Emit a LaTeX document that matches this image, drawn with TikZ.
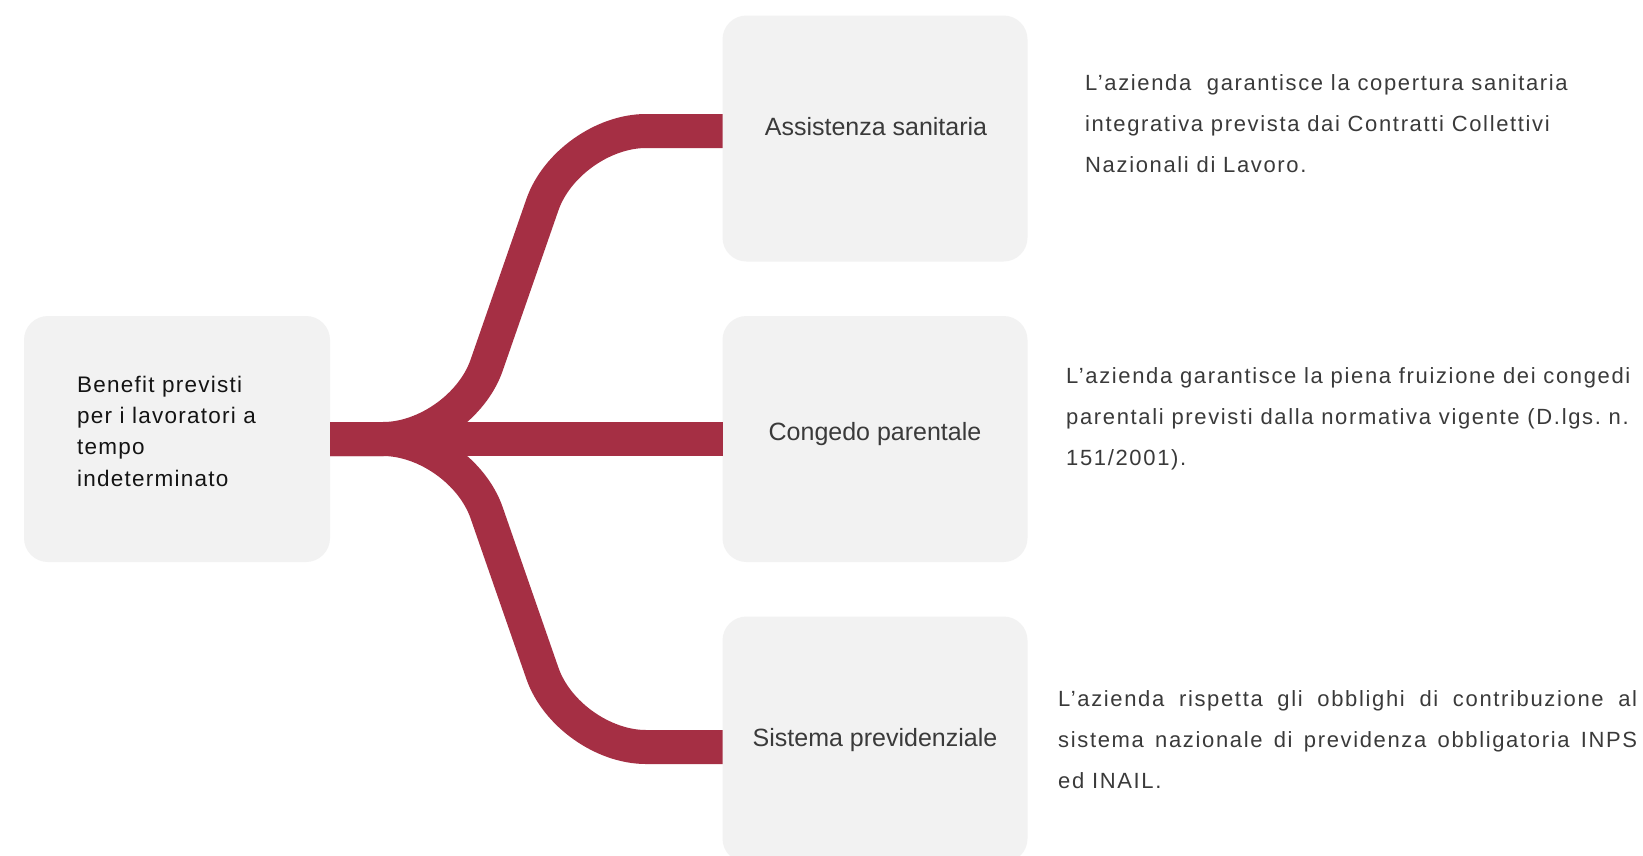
\documentclass[tikz,border=0pt]{standalone}
\usepackage{fontspec}
\setmainfont{Liberation Sans}
\newfontfamily\descfont[LetterSpace=7.5]{Liberation Sans}
\newfontfamily\leftfont[LetterSpace=5.5]{Liberation Sans}
\newfontfamily\labelfont{Liberation Sans}
\definecolor{branchred}{RGB}{165,47,68}
\definecolor{boxgray}{RGB}{242,242,242}
\definecolor{textgray}{RGB}{58,58,58}
\definecolor{leftblack}{RGB}{20,20,20}
\frenchspacing
\begin{document}
\begin{tikzpicture}[x=1pt,y=-1pt,
  box/.style={fill=boxgray, rounded corners=24pt, inner sep=0pt, outer sep=0pt,
    minimum width=305pt, minimum height=246pt},
  branch/.style={draw=branchred, line width=34pt, rounded corners=78pt},
  lbl/.style={inner sep=0pt, text=textgray, font=\labelfont\fontsize{25pt}{30pt}\selectfont},
  desc/.style={inner sep=0pt, text=textgray, align=left, font=\descfont\fontsize{22pt}{41pt}\selectfont},
  lefttxt/.style={inner sep=0pt, text=leftblack, align=left, font=\leftfont\fontsize{22.5pt}{31.3pt}\selectfont}
]
\clip (0,0) rectangle (1643,855);
\fill[white] (0,0) rectangle (1643,855);

% boxes
\node[box, minimum width=306pt] (L) at (177,439) {};
\node[box] (T) at (875,138.5) {};
\node[box] (M) at (875,439) {};
\node[box] (B) at (875,739.5) {};

% helper coordinates
\coordinate (jn) at (461,439);
\coordinate (tk) at (568,131);
\coordinate (bk) at (568,747);

% connectors
\draw[branch] (L.east) -- (jn) -- (tk) -- (T.west |- tk);
\draw[branch] (L.east) -- (jn) -- (bk) -- (B.west |- bk);
\draw[branch] (L.east) -- (M.west);

% texts (anchor = baseline of the last line)
\node[lefttxt, anchor=base west] (Lt) at (77,486) {Benefit previsti\\per i lavoratori a\\tempo\\indeterminato};

\node[lbl, anchor=base] (Tl) at (876,135) {Assistenza sanitaria};
\node[lbl, anchor=base] (Ml) at (875,440) {Congedo parentale};
\node[lbl, anchor=base] (Bl) at (875,746) {Sistema previdenziale};

\node[desc, anchor=base west] (Td) at (1085,172) {L’azienda~ garantisce la copertura sanitaria\\integrativa prevista dai Contratti Collettivi\\Nazionali di Lavoro.};
\node[desc, anchor=base west] (Md) at (1066,465) {L’azienda garantisce la piena fruizione dei congedi\\parentali previsti dalla normativa vigente (D.lgs. n.\\151/2001).};
\node[desc, anchor=base west] (Bd) at (1058,788) {\makebox[579pt][s]{L’azienda rispetta gli obblighi di contribuzione al}\\\makebox[579pt][s]{sistema nazionale di previdenza obbligatoria INPS}\\ed INAIL.};
\end{tikzpicture}
\end{document}
